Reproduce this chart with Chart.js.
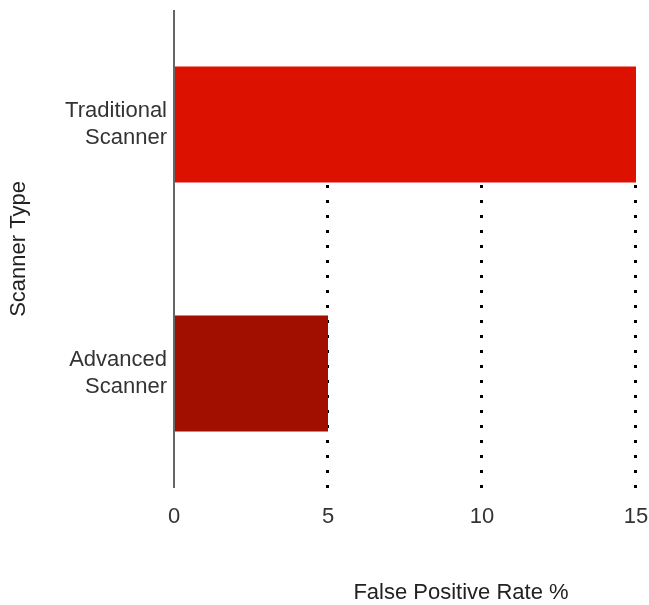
<!DOCTYPE html>
<html>
<head>
<meta charset="utf-8">
<script src="https://cdn.jsdelivr.net/npm/chart.js@4.4.1/dist/chart.umd.min.js"></script>
<style>
  html, body { margin: 0; padding: 0; background: #fff; overflow: hidden; }
  #wrap { width: 649px; height: 605px; }
</style>
</head>
<body>
<div id="wrap"><canvas id="chart"></canvas></div>
<script>
// Data
const scannerTypes = [['Traditional', 'Scanner'], ['Advanced', 'Scanner']];
const falsePositiveRates = [15, 5];
const barColors = ['#dd1100', '#a00f00'];
const rateTicks = [0, 5, 10, 15];

const xTitle = 'False Positive Rate %';
const yTitle = 'Scanner Type';

const FONT = "Arial, 'Liberation Sans', sans-serif";

// Axis line + dotted grid, drawn under the bars
const gridPlugin = {
  id: 'dottedGrid',
  beforeDatasetsDraw(chart) {
    const { ctx, chartArea, scales } = chart;
    const top = chartArea.top + 10;
    const bottom = chartArea.bottom - 10;
    const firstBar = chart.getDatasetMeta(0).data[0];
    const gridTop = firstBar.y + firstBar.height / 2;

    ctx.save();
    // dotted vertical lines at each tick except 0
    ctx.strokeStyle = '#000';
    ctx.lineWidth = 3;
    ctx.setLineDash([3, 12]);
    rateTicks.filter(v => v > 0).forEach(v => {
      const x = Math.round(scales.x.getPixelForValue(v)) - 0.5;
      ctx.beginPath();
      ctx.moveTo(x, bottom);
      ctx.lineTo(x, gridTop);
      ctx.stroke();
    });
    ctx.restore();
  },
  afterDatasetsDraw(chart) {
    const { ctx, chartArea, scales } = chart;
    ctx.save();
    ctx.strokeStyle = '#666';
    ctx.lineWidth = 2;
    const x = scales.x.getPixelForValue(0);
    ctx.beginPath();
    ctx.moveTo(x, chartArea.top + 10);
    ctx.lineTo(x, chartArea.bottom - 10);
    ctx.stroke();
    ctx.restore();
  },
  afterDraw(chart) {
    // x-axis title, sits right of the plot centre like the source
    const { ctx, chartArea } = chart;
    ctx.save();
    ctx.font = `22px ${FONT}`;
    ctx.fillStyle = '#222';
    ctx.textAlign = 'center';
    ctx.textBaseline = 'middle';
    ctx.fillText(xTitle, chartArea.left + 287, chartArea.bottom + 95);
    ctx.restore();
  },
};

new Chart(document.getElementById('chart'), {
  type: 'bar',
  data: {
    labels: scannerTypes,
    datasets: [{
      data: falsePositiveRates,
      backgroundColor: barColors,
      borderWidth: 0,
      barPercentage: 0.466,
      categoryPercentage: 1,
    }],
  },
  options: {
    indexAxis: 'y',
    responsive: true,
    maintainAspectRatio: false,
    animation: false,
    layout: { padding: { left: 6, right: 13, top: 0, bottom: 0 } },
    plugins: {
      legend: { display: false },
      tooltip: { enabled: false },
    },
    scales: {
      x: {
        min: 0,
        max: 15,
        afterBuildTicks: (scale) => { scale.ticks = rateTicks.map(v => ({ value: v })); },
        grid: { display: false, drawTicks: false },
        border: { display: false },
        ticks: {
          padding: 6,
          color: '#333',
          font: { family: FONT, size: 22 },
        },
        afterFit: (scale) => {
          scale.height = 107;
          scale.paddingLeft = 0;
          scale.paddingRight = 0;
        },
      },
      y: {
        grid: { display: false, drawTicks: false },
        border: { display: false },
        ticks: {
          padding: 7,
          color: '#333',
          font: { family: FONT, size: 22 },
        },
        title: {
          display: true,
          text: yTitle,
          color: '#222',
          font: { family: FONT, size: 22 },
          padding: { top: 0, bottom: 0 },
        },
        afterFit: (scale) => {
          scale.width = 168;
          scale.paddingTop = 0;
          scale.paddingBottom = 0;
        },
      },
    },
  },
  plugins: [gridPlugin],
});
</script>
</body>
</html>
